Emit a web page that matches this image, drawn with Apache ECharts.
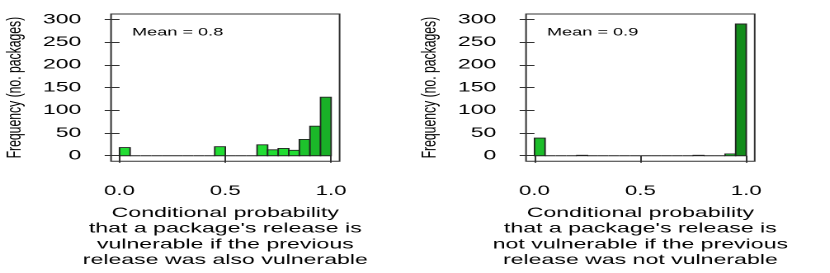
<!DOCTYPE html>
<html><head><meta charset="utf-8">
<script src="https://cdn.jsdelivr.net/npm/echarts@6/dist/echarts.min.js"></script>
<style>
html,body{margin:0;padding:0;background:#fff;overflow:hidden}
#wrap{width:830px;height:273px;overflow:hidden}
#c{width:503px;height:273px;transform:scaleX(1.65);transform-origin:0 0}
</style>
</head><body><div id="wrap"><div id="c"></div></div>
<script>
const binEdges = [0,0.05,0.1,0.15,0.2,0.25,0.3,0.35,0.4,0.45,0.5,0.55,0.6,0.65,0.7,0.75,0.8,0.85,0.9,0.95,1.0];
const countsVulnAfterVuln = [18,0,0,0,0,0,0,0,0,20,0,0,0,24,13,16,12,36,65,129];
const countsNotVulnAfterNot = [39,0,0,0,1,0,0,0,0,0,0,0,0,0,0,1,0,0,4,290];
const yTicks = [0,50,100,150,200,250,300];
const xTicks = [0,0.5,1.0];
const meanLabels = ['Mean = 0.8','Mean = 0.9'];
const xTitles = [
  'Conditional probability\nthat a package\'s release is\nvulnerable if the previous\nrelease was also vulnerable',
  'Conditional probability\nthat a package\'s release is\nnot vulnerable if the previous\nrelease was not vulnerable'
];
const yTitle = 'Frequency (no. packages)';

const FONT = 'Liberation Sans, Arial, Helvetica, sans-serif';
const colorStops = [[0,'#22dd33'],[28,'#22dd33'],[38,'#1cbd2a'],[65,'#1bb829'],[130,'#19b027'],[290,'#138c1b']];
function hex(c){return [1,3,5].map(i=>parseInt(c.substr(i,2),16));}
function colorFor(v){
  for(let i=1;i<colorStops.length;i++){
    if(v<=colorStops[i][0]){
      const [a,ca]=colorStops[i-1],[b,cb]=colorStops[i];
      const t=(v-a)/(b-a||1); const A=hex(ca),B=hex(cb);
      return 'rgb('+A.map((x,k)=>Math.round(x+(B[k]-x)*t)).join(',')+')';
    }
  }
  return colorStops[colorStops.length-1][1];
}
function toData(counts){return counts.map((c,i)=>[binEdges[i],binEdges[i+1],c]);}
function renderItem(params, api){
  const p0=api.coord([api.value(0),0]);
  const p1=api.coord([api.value(1),api.value(2)]);
  return {type:'rect',shape:{x:p0[0],y:p1[1],width:p1[0]-p0[0],height:p0[1]-p1[1]},
    style:{fill:colorFor(api.value(2)),stroke:'#222',lineWidth:0.9}};
}
const grids=[{left:67.3,width:138.5,top:14,height:157},{left:318.8,width:138.6,top:14,height:157}];
const chart=echarts.init(document.getElementById('c'),null,{devicePixelRatio:2});
chart.setOption({
  animation:false,
  title: meanLabels.map((t,i)=>({text:t,left:i===0?80:331.5,top:27,padding:0,
    textStyle:{fontSize:11,fontWeight:'normal',color:'#000',fontFamily:FONT}})),
  grid: grids.map(g=>Object.assign({show:true,borderColor:'#333',borderWidth:1,backgroundColor:'transparent'},g)),
  xAxis: xTitles.map((t,i)=>({type:'value',gridIndex:i,min:-0.04,max:1.04,
    axisLine:{show:false},splitLine:{show:false},
    axisTick:{show:true,customValues:xTicks,length:7,lineStyle:{color:'#333'}},
    axisLabel:{customValues:xTicks,formatter:v=>v.toFixed(1),fontSize:13.5,color:'#000',margin:23,fontFamily:FONT},
    name:t,nameLocation:'middle',nameGap:44,
    nameTextStyle:{fontSize:14,lineHeight:15.7,color:'#000',fontFamily:FONT}})),
  yAxis: [0,1].map(i=>({type:'value',gridIndex:i,min:-12,max:312,
    axisLine:{show:false},splitLine:{show:false},
    axisTick:{show:true,customValues:yTicks,length:9,lineStyle:{color:'#333'}},
    axisLabel:{customValues:yTicks,fontSize:14,color:'#000',margin:18,fontFamily:FONT},
    name:yTitle,nameLocation:'middle',nameGap:52,nameRotate:90,
    nameTextStyle:{fontSize:12.2,color:'#000',fontFamily:FONT}})),
  series:[countsVulnAfterVuln,countsNotVulnAfterNot].map((c,i)=>({type:'custom',xAxisIndex:i,yAxisIndex:i,
    renderItem:renderItem,encode:{x:[0,1],y:2},data:toData(c),clip:false}))
});
</script></body></html>
